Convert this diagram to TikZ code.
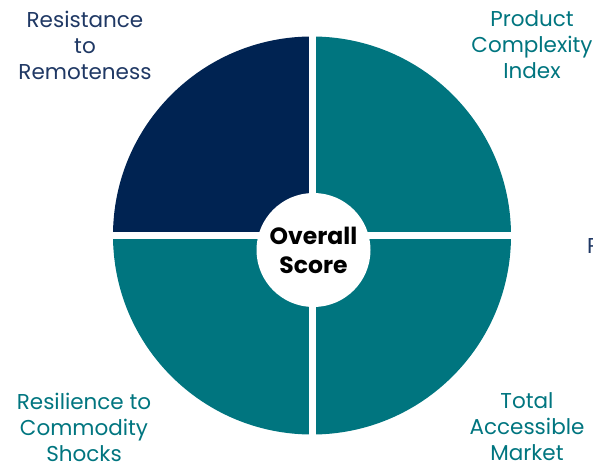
\documentclass[tikz,border=0pt]{standalone}
\usepackage{fontspec}
\setmainfont{Poppins}
\definecolor{quadnavy}{HTML}{002352}
\definecolor{quadteal}{HTML}{00757F}
\definecolor{labelnavy}{HTML}{1F3864}
\begin{document}
\begin{tikzpicture}[x=1pt,y=1pt,
  label/.style={align=center,font=\fontsize{21.5}{26}\selectfont},
  gap/.style={white,line width=7pt}]
\useasboundingbox (-312,-229.5) rectangle (281,235.5);
\foreach \a/\c in {0/quadteal,90/quadnavy,180/quadteal,270/quadteal} {
	\fill[\c] (0,0) -- (\a:199) arc (\a:\a+90:199) -- cycle;
}
\draw[gap] (-205,0) -- (205,0);
\draw[gap] (0,-205) -- (0,205);
\node[fill=white,circle,inner sep=0pt,minimum size=114pt,align=center,
  font=\bfseries\fontsize{23.5}{29}\selectfont] (score) at (1.5,-14.5) {Overall\\Score};
\node[label,labelnavy] (remote) at (-227,190.5) {Resistance\\to\\Remoteness};
\node[label,quadteal] (complex) at (220,190.5) {Product\\Complexity\\Index};
\node[label,quadteal] (shocks) at (-228,-191.5) {Resilience to\\Commodity\\Shocks};
\node[label,quadteal] (market) at (215,-191.5) {Total\\Accessible\\Market};
\node[label,labelnavy,anchor=west,inner sep=0pt] (cut) at (275,-10.5) {P};
\end{tikzpicture}
\end{document}
